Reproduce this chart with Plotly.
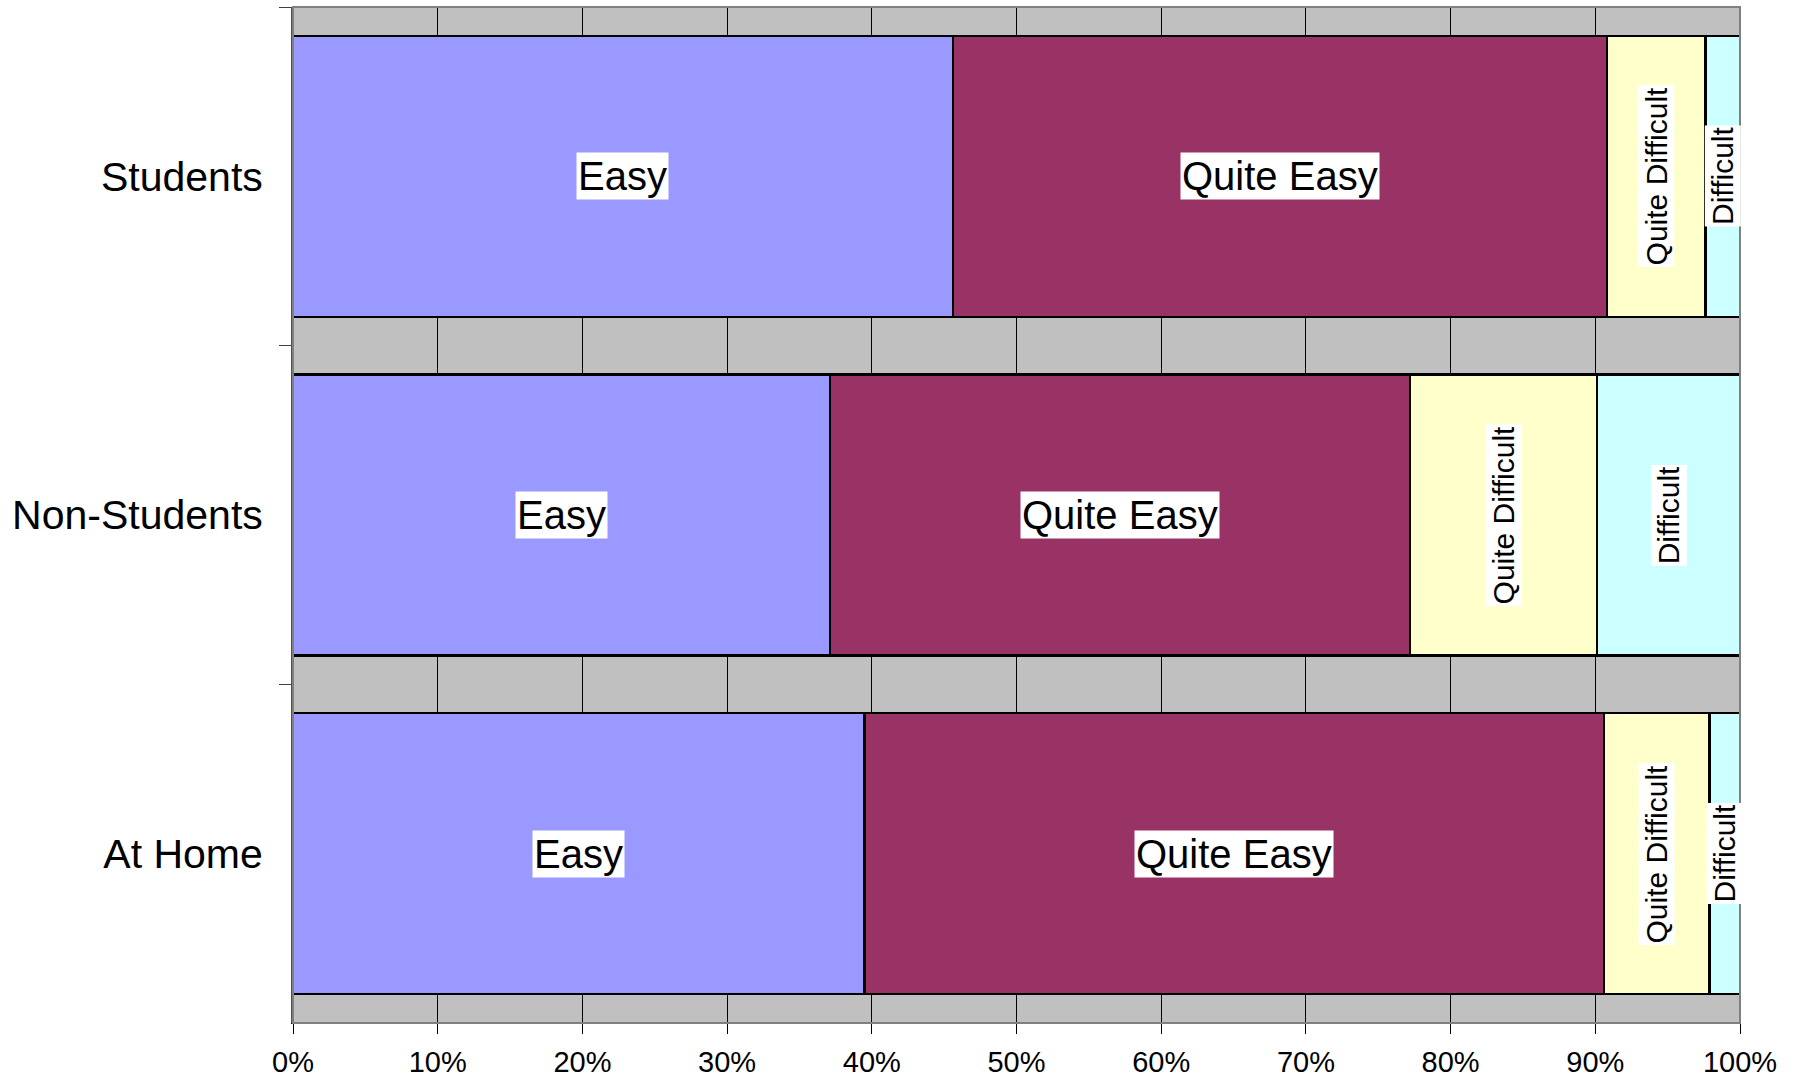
import plotly.graph_objects as go

categories = ["Students", "Non-Students", "At Home"]
series_names = ["Easy", "Quite Easy", "Quite Difficult", "Difficult"]
easy = [45.6, 37.1, 39.5]
quite_easy = [45.2, 40.1, 51.1]
quite_difficult = [6.8, 12.9, 7.3]
difficult = [2.4, 9.9, 2.1]
x_ticks = [0, 10, 20, 30, 40, 50, 60, 70, 80, 90, 100]

series_values = [easy, quite_easy, quite_difficult, difficult]
colors = ["#9999FF", "#993366", "#FFFFCC", "#CCFFFF"]
vertical = [False, False, True, True]

FONT = "Arial, Liberation Sans, sans-serif"

fig = go.Figure()
for name, vals, col in zip(series_names, series_values, colors):
    fig.add_trace(go.Bar(
        y=categories, x=vals, name=name, orientation="h",
        marker=dict(color=col, line=dict(color="black", width=2.5)),
        hoverinfo="x+y+name",
    ))

# labels centred in each segment
annotations = []
for ci, cat in enumerate(categories):
    cum = 0.0
    for name, vals, vert in zip(series_names, series_values, vertical):
        v = vals[ci]
        annotations.append(dict(
            x=cum + v / 2, y=cat, xref="x", yref="y", text=name,
            showarrow=False, bgcolor="white", borderpad=1,
            textangle=-90 if vert else 0,
            font=dict(family=FONT, size=30 if vert else 40, color="black"),
        ))
        cum += v

fig.update_layout(
    barmode="stack", bargap=0.17, showlegend=False,
    width=1797, height=1082,
    margin=dict(l=293, r=57, t=7, b=59),
    paper_bgcolor="white", plot_bgcolor="#C0C0C0",
    font=dict(family=FONT, color="black"),
    annotations=annotations,
    shapes=[dict(type="rect", xref="paper", yref="paper", x0=0, x1=1, y0=0, y1=1,
                 line=dict(color="#808080", width=2), fillcolor="rgba(0,0,0,0)", layer="above")],
)
fig.update_xaxes(
    range=[0, 100], tickvals=x_ticks, ticktext=[f"{t}%" for t in x_ticks],
    showgrid=True, gridcolor="black", gridwidth=1, zeroline=False,
    showline=True, linecolor="black", linewidth=1,
    ticks="outside", ticklen=10, tickcolor="black",
    tickfont=dict(family=FONT, size=29, color="black"),
    ticklabelstandoff=3, automargin=False,
)
fig.update_yaxes(
    autorange="reversed", tickson="boundaries",
    ticks="outside", ticklen=12, tickcolor="#404040",
    showline=True, linecolor="#505050", linewidth=2, showgrid=False,
    tickfont=dict(family=FONT, size=41, color="black"),
    ticklabelstandoff=20, automargin=False,
)

fig.write_html("out.html")
